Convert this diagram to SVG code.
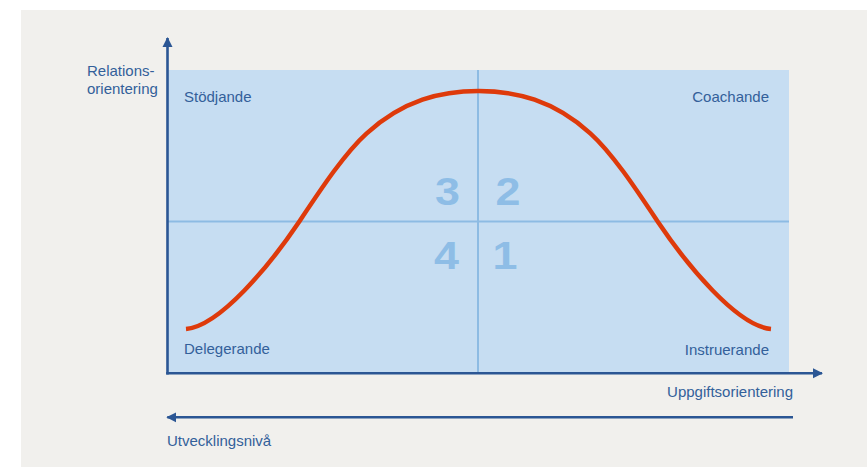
<svg xmlns="http://www.w3.org/2000/svg" width="867" height="467" viewBox="0 0 867 467">
<defs>
<style>
.lbl{font-family:"Liberation Sans",Arial,sans-serif;font-size:15px;fill:#33609a}
.num{font-family:"Liberation Sans",Arial,sans-serif;font-size:39px;font-weight:bold;fill:#8ebde6;text-anchor:middle}
.axis{stroke:#2b5694;stroke-width:2.6;fill:none}
.grid{stroke:#8dbbe3;stroke-width:2;fill:none}
</style>
<marker id="ah" viewBox="0 0 10 10" refX="9" refY="5" markerWidth="10" markerHeight="11" markerUnits="userSpaceOnUse" orient="auto">
<path d="M0,0 L10,5 L0,10 Z" fill="#2b5694"/>
</marker>
</defs>
<rect x="0" y="0" width="867" height="467" fill="#ffffff"/>
<rect x="21" y="10" width="846" height="457" fill="#f1f0ed"/>
<g id="field">
<rect x="168" y="70" width="621" height="302" fill="#c6ddf2"/>
<line class="grid" x1="478" y1="70" x2="478" y2="372"/>
<line class="grid" x1="168" y1="221.5" x2="789" y2="221.5"/>
</g>
<g id="quadrant-3"><text class="num" transform="translate(447.5,205) scale(1.15,1)">3</text></g>
<g id="quadrant-2"><text class="num" transform="translate(508,205) scale(1.15,1)">2</text></g>
<g id="quadrant-4"><text class="num" transform="translate(446.5,269) scale(1.15,1)">4</text></g>
<g id="quadrant-1"><text class="num" transform="translate(505,269) scale(1.15,1)">1</text></g>
<g id="curve">
<path d="M186,329 C220,326 270,265 299,222 C321,189 344.7,153.1 366.7,133.3 C403.7,100 441,91 478.5,91 C516,91 553.3,100 590.3,133.3 C612.3,153.1 636,189 658,222 C687,265 737,326 771,329" fill="none" stroke="#de3a0b" stroke-width="4.5" stroke-linecap="butt"/>
</g>
<g id="connectors">
<line class="axis" x1="167.5" y1="374.5" x2="167.5" y2="38" marker-end="url(#ah)"/>
<line class="axis" x1="166.2" y1="373.3" x2="822" y2="373.3" marker-end="url(#ah)"/>
<line class="axis" x1="793" y1="417.3" x2="167.3" y2="417.3" marker-end="url(#ah)"/>
</g>
<g id="label-relations">
<text class="lbl" x="87" y="76">Relations-</text>
<text class="lbl" x="87" y="94">orientering</text>
</g>
<g id="label-stodjande"><text class="lbl" x="184" y="102">Stödjande</text></g>
<g id="label-coachande"><text class="lbl" x="769" y="102" text-anchor="end">Coachande</text></g>
<g id="label-delegerande"><text class="lbl" x="184" y="354">Delegerande</text></g>
<g id="label-instruerande"><text class="lbl" x="769" y="355" text-anchor="end">Instruerande</text></g>
<g id="label-uppgift"><text class="lbl" x="793" y="397" text-anchor="end">Uppgiftsorientering</text></g>
<g id="label-utveckling"><text class="lbl" x="167" y="446">Utvecklingsnivå</text></g>
</svg>
